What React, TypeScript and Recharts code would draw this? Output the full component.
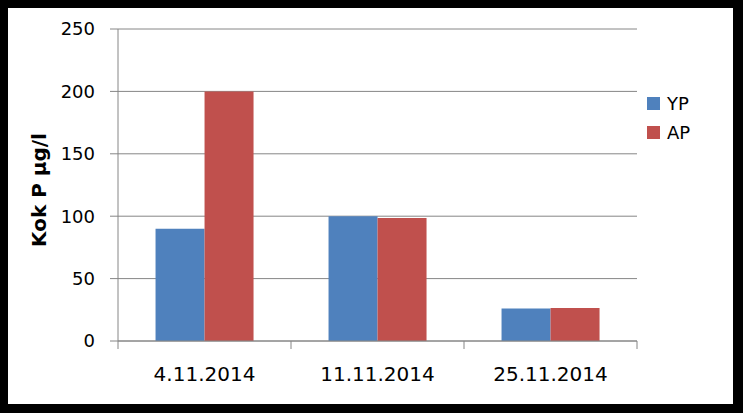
import React from 'react';
import {
	BarChart,
	Bar,
	XAxis,
	YAxis,
	CartesianGrid,
	Legend,
	Label,
} from 'recharts';

const categories = ['4.11.2014', '11.11.2014', '25.11.2014'];
const seriesNames = ['YP', 'AP'];
const ypValues = [90, 100, 26];
const apValues = [200, 98.5, 26.5];
const yTicks = [0, 50, 100, 150, 200, 250];

const data = categories.map((date, i) => ({
	date,
	YP: ypValues[i],
	AP: apValues[i],
}));

const CHART_W = 725;
const CHART_H = 396;
const Y_AXIS_W = 110;
const LEGEND_W = 90;
const MARGIN = { top: 21, right: 6, left: 0, bottom: 0 };
const PLOT_W = CHART_W - MARGIN.left - MARGIN.right - Y_AXIS_W - LEGEND_W;
const BAND = PLOT_W / categories.length;

const FONT = '"DejaVu Sans", sans-serif';
const GRID = '#868686';

// x labels plus Excel-style tick marks between the categories
function DateTick(props: any) {
	const { x, y, payload, index } = props;
	const axisY = y - 25;
	return (
		<g>
			<line x1={x - BAND / 2} x2={x - BAND / 2} y1={axisY} y2={axisY + 8} stroke={GRID} />
			{index === categories.length - 1 && (
				<line x1={x + BAND / 2} x2={x + BAND / 2} y1={axisY} y2={axisY + 8} stroke={GRID} />
			)}
			<text x={x} y={y + 15} textAnchor="middle" fill="#000" fontSize={20} fontFamily={FONT}>
				{payload.value}
			</text>
		</g>
	);
}

function LegendBox(props: any) {
	// keep the series order (YP first), the library sorts by name otherwise
	const items = [...(props.payload || [])].sort(
		(a: any, b: any) => seriesNames.indexOf(a.value) - seriesNames.indexOf(b.value)
	);
	return (
		<div style={{ paddingLeft: 10, fontFamily: FONT, fontSize: 18, color: '#000' }}>
			{items.map((entry: any) => (
				<div key={entry.value} style={{ height: 29, display: 'flex', alignItems: 'center' }}>
					<span style={{ width: 13, height: 13, background: entry.color, marginRight: 7, display: 'inline-block' }} />
					<span>{entry.value}</span>
				</div>
			))}
		</div>
	);
}

export default function App() {
	return (
		<div style={{ position: 'absolute', left: 0, top: 0, width: 743, height: 413, background: '#000' }}>
			<div style={{ position: 'absolute', left: 8, top: 8, width: CHART_W, height: CHART_H, background: '#fff' }}>
				<BarChart
					width={CHART_W}
					height={CHART_H}
					data={data}
					margin={MARGIN}
					barCategoryGap="21.7%"
					barGap={0}
				>
					<CartesianGrid vertical={false} stroke={GRID} />
					<XAxis
						dataKey="date"
						height={63}
						stroke={GRID}
						tickSize={0}
						tickMargin={25}
						tickLine={false}
						tick={<DateTick />}
						interval={0}
					/>
					<YAxis
						width={Y_AXIS_W}
						domain={[0, 250]}
						ticks={yTicks}
						stroke={GRID}
						tickSize={8}
						tickMargin={15}
						tick={{ fill: '#000', fontSize: 18, fontFamily: FONT }}
					>
						<Label
							content={(p: any) => {
								const vb = p.viewBox || { y: 21, height: 312 };
								const cy = vb.y + vb.height / 2 + 5;
								return (
									<text
										x={38}
										y={cy}
										transform={`rotate(-90, 38, ${cy})`}
										textAnchor="middle"
										fontSize={20}
										fontWeight="bold"
										fontFamily={FONT}
										fill="#000"
									>
										Kok P µg/l
									</text>
								);
							}}
						/>
					</YAxis>
					<Legend
						layout="vertical"
						align="right"
						verticalAlign="middle"
						width={LEGEND_W}
						wrapperStyle={{ top: 81 }}
						content={<LegendBox />}
					/>
					<Bar dataKey="YP" fill="#4F81BD" isAnimationActive={false} />
					<Bar dataKey="AP" fill="#C0504D" isAnimationActive={false} />
				</BarChart>
			</div>
		</div>
	);
}
